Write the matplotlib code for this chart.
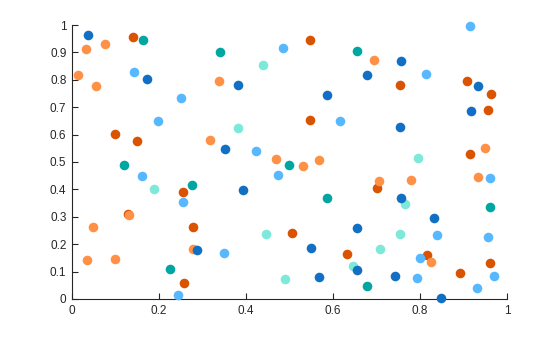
import matplotlib
matplotlib.use("Agg")
import matplotlib.pyplot as plt

plt.rcParams['font.family'] = ['Liberation Sans', 'DejaVu Sans']

# Series data (x, y) per colour group
red_x = [0.140, 0.099, 0.150, 0.548, 0.548, 0.753, 0.907, 0.964, 0.957, 0.914,
         0.255, 0.128, 0.279, 0.258, 0.506, 0.632, 0.700, 0.815, 0.960, 0.891]
red_y = [0.955, 0.602, 0.576, 0.944, 0.652, 0.780, 0.794, 0.747, 0.689, 0.528,
         0.389, 0.309, 0.263, 0.058, 0.240, 0.163, 0.404, 0.161, 0.130, 0.094]

orange_x = [0.076, 0.0315, 0.014, 0.055, 0.318, 0.338, 0.470, 0.532, 0.568, 0.695,
            0.950, 0.132, 0.048, 0.277, 0.035, 0.099, 0.706, 0.780, 0.934, 0.825]
orange_y = [0.930, 0.911, 0.818, 0.777, 0.580, 0.794, 0.510, 0.485, 0.507, 0.871,
            0.550, 0.305, 0.262, 0.181, 0.141, 0.145, 0.431, 0.433, 0.444, 0.134]

lblue_x = [0.143, 0.250, 0.198, 0.486, 0.617, 0.423, 0.474, 0.916, 0.814, 0.160,
           0.255, 0.244, 0.350, 0.960, 0.840, 0.957, 0.801, 0.792, 0.971, 0.930]
lblue_y = [0.827, 0.734, 0.648, 0.915, 0.648, 0.539, 0.451, 0.995, 0.820, 0.448,
           0.353, 0.0135, 0.168, 0.440, 0.232, 0.225, 0.148, 0.075, 0.083, 0.039]

teal_x = [0.163, 0.120, 0.341, 0.655, 0.499, 0.275, 0.226, 0.587, 0.960, 0.679]
teal_y = [0.944, 0.488, 0.900, 0.905, 0.488, 0.415, 0.108, 0.367, 0.335, 0.046]

mint_x = [0.440, 0.382, 0.796, 0.189, 0.447, 0.647, 0.490, 0.766, 0.755, 0.709]
mint_y = [0.853, 0.623, 0.513, 0.400, 0.236, 0.119, 0.072, 0.348, 0.236, 0.181]

dblue_x = [0.036, 0.173, 0.382, 0.586, 0.352, 0.757, 0.679, 0.934, 0.918, 0.755,
           0.288, 0.394, 0.654, 0.550, 0.656, 0.568, 0.757, 0.831, 0.743, 0.849]
dblue_y = [0.962, 0.802, 0.780, 0.743, 0.546, 0.867, 0.816, 0.776, 0.685, 0.627,
           0.180, 0.397, 0.258, 0.185, 0.105, 0.079, 0.367, 0.294, 0.083, 0.0025]

xticks = [0, 0.2, 0.4, 0.6, 0.8, 1]
yticks = [0, 0.1, 0.2, 0.3, 0.4, 0.5, 0.6, 0.7, 0.8, 0.9, 1]
xticklabels = ['0', '0.2', '0.4', '0.6', '0.8', '1']
yticklabels = ['0', '0.1', '0.2', '0.3', '0.4', '0.5', '0.6', '0.7', '0.8', '0.9', '1']

fig = plt.figure(figsize=(5.6, 3.37), dpi=100)
ax = fig.add_axes([0.1286, 0.1128, 0.7768, 0.813])

S = 48
groups = [
    (red_x, red_y, '#D95300'),
    (orange_x, orange_y, '#FF9147'),
    (lblue_x, lblue_y, '#58B8FF'),
    (teal_x, teal_y, '#00A6A2'),
    (mint_x, mint_y, '#7EE9D8'),
    (dblue_x, dblue_y, '#1170C4'),
]
for gx, gy, c in groups:
    ax.scatter(gx, gy, s=S, color=c, linewidths=0, clip_on=False, zorder=3)

ax.set_xlim(0, 1)
ax.set_ylim(0, 1)
ax.set_xticks(xticks)
ax.set_xticklabels(xticklabels)
ax.set_yticks(yticks)
ax.set_yticklabels(yticklabels)

for side in ['top', 'right']:
    ax.spines[side].set_visible(False)
for side in ['left', 'bottom']:
    ax.spines[side].set_color('#262626')
    ax.spines[side].set_linewidth(0.8)
    ax.spines[side].set_zorder(1)

ax.tick_params(direction='in', length=4, width=0.8, colors='#262626',
               labelsize=8.5, pad=4)

fig.savefig('out.png', dpi=100)
